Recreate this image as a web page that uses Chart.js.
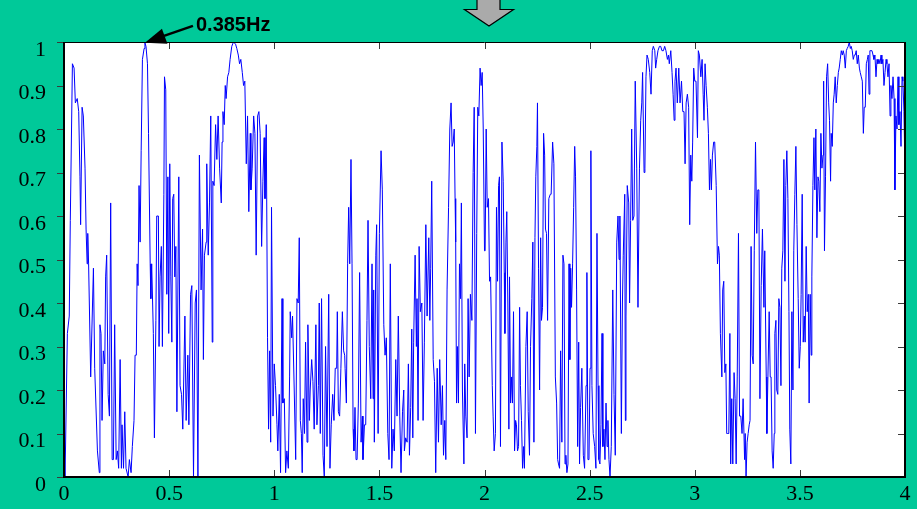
<!DOCTYPE html>
<html>
<head>
<meta charset="utf-8">
<title>Coherence spectrum</title>
<script src="https://cdn.jsdelivr.net/npm/chart.js@4.4.1/dist/chart.umd.min.js"></script>
<style>
  html, body { margin: 0; padding: 0; background: #00C999; }
  #wrap { width: 917px; height: 509px; position: relative; }
  canvas { display: block; }
</style>
</head>
<body>
<div id="wrap"><canvas id="chart" width="917" height="509"></canvas></div>
<script>
// Frequency axis samples (Hz) and the matching coherence values, in bands.
const freqA = [
  0.000,0.005,0.016,0.025,0.030,0.040,0.048,0.054,0.063,0.070,
  0.076,0.079,0.086,0.092,0.100,0.105,0.110,0.113,0.117,0.127,
  0.140,0.146,0.159,0.168,0.171,0.176,0.181,0.187,0.194,0.198,
  0.203,0.210,0.216,0.222,0.229,0.235,0.241,0.248,0.254,0.260,
  0.267,0.273,0.276,0.283,0.289,0.295,0.305,0.311,0.319,0.325,
  0.333,0.338,0.344,0.348,0.352,0.357,0.362,0.367,0.373,0.381,
  0.385,0.390,0.397,0.402,0.410,0.413,0.417,0.425,0.430,0.437,
  0.441,0.449,0.452,0.457,0.463,0.468,0.475,0.478,0.484,0.489,
  0.494,0.498,0.503,0.508,0.513,0.517,0.522,0.527,0.532,0.537,
  0.546,0.552,0.559,0.565,0.575,0.581,0.589,0.594,0.602,0.608,
  0.616,0.624,0.630,0.637,0.644,0.652,0.659,0.663,0.668
];
const cohA = [
  0.08,0.00,0.33,0.37,0.59,0.95,0.94,0.86,0.87,0.84,
  0.69,0.58,0.85,0.83,0.71,0.57,0.49,0.56,0.49,0.23,
  0.48,0.25,0.06,0.01,0.35,0.33,0.13,0.29,0.26,0.46,
  0.51,0.19,0.14,0.63,0.04,0.04,0.35,0.04,0.06,0.02,
  0.27,0.02,0.12,0.02,0.15,0.02,0.00,0.04,0.01,0.07,
  0.13,0.28,0.28,0.49,0.44,0.67,0.54,0.75,0.96,0.985,
  0.998,0.99,0.95,0.79,0.49,0.41,0.49,0.33,0.09,0.36,
  0.60,0.60,0.30,0.46,0.53,0.30,0.65,0.92,0.89,0.42,
  0.69,0.33,0.72,0.46,0.31,0.64,0.65,0.46,0.53,0.15,
  0.69,0.21,0.19,0.11,0.37,0.13,0.28,0.12,0.42,0.44,
  0.00,0.40,0.43,0.00,0.74,0.43,0.57,0.27,0.51
];
const freqB = [
  0.670,0.676,0.679,0.686,0.692,0.698,0.705,0.708,0.714,0.721,
  0.727,0.733,0.740,0.748,0.752,0.756,0.762,0.767,0.771,0.778,
  0.784,0.790,0.798,0.806,0.816,0.822,0.829,0.835,0.841,0.848,
  0.854,0.860,0.867,0.873,0.879,0.886,0.889,0.895,0.902,0.908,
  0.914,0.921,0.927,0.933,0.940,0.946,0.952,0.956,0.962,0.968,
  0.973,0.978,0.983,0.987,0.994,1.000,1.006,1.013,1.017,1.024,
  1.030,1.037,1.041,1.048,1.054,1.060,1.067,1.073,1.076,1.083,
  1.087,1.095,1.102,1.108,1.114,1.119,1.124,1.129,1.133,1.138,
  1.144,1.149,1.156,1.160,1.167,1.171,1.178,1.184,1.190,1.198,
  1.203,1.210,1.214,1.219,1.225,1.232,1.238,1.244,1.251,1.259,
  1.265,1.271,1.278,1.284,1.290,1.297,1.300,1.305,1.311,1.317,
  1.324,1.330,1.335
];
const cohB = [
  0.51,0.54,0.72,0.51,0.63,0.83,0.31,0.68,0.67,0.81,
  0.73,0.83,0.71,0.63,0.77,0.84,0.81,0.90,0.87,0.92,
  0.93,0.96,0.99,1.00,0.995,0.985,0.97,0.95,0.96,0.93,
  0.90,0.91,0.72,0.83,0.61,0.79,0.66,0.71,0.83,0.79,
  0.51,0.83,0.84,0.79,0.53,0.68,0.78,0.64,0.81,0.32,
  0.11,0.29,0.08,0.62,0.14,0.26,0.21,0.12,0.06,0.19,
  0.01,0.41,0.17,0.18,0.01,0.06,0.02,0.23,0.38,0.32,
  0.37,0.20,0.04,0.41,0.40,0.55,0.13,0.10,0.01,0.18,
  0.10,0.31,0.08,0.35,0.13,0.20,0.27,0.22,0.11,0.35,
  0.12,0.21,0.40,0.10,0.41,0.05,0.00,0.30,0.07,0.42,
  0.02,0.12,0.19,0.13,0.25,0.25,0.38,0.15,0.14,0.25,
  0.38,0.29,0.28
];
const freqC = [
  1.337,1.343,1.349,1.354,1.359,1.365,1.370,1.375,1.379,1.384,
  1.389,1.394,1.400,1.406,1.413,1.419,1.422,1.429,1.435,1.441,
  1.446,1.452,1.459,1.465,1.470,1.473,1.476,1.483,1.487,1.494,
  1.500,1.508,1.514,1.521,1.527,1.533,1.540,1.546,1.552,1.559,
  1.565,1.571,1.578,1.584,1.590,1.597,1.603,1.610,1.616,1.619,
  1.625,1.632,1.638,1.643,1.649,1.654,1.659,1.663,1.670,1.676,
  1.679,1.684,1.689,1.695,1.702,1.708,1.714,1.721,1.727,1.735,
  1.740,1.744,1.749,1.756,1.762,1.768,1.775,1.781,1.787,1.794,
  1.800,1.805,1.811,1.816,1.822,1.829,1.835,1.841,1.846,1.851,
  1.856,1.860,1.863,1.867,1.871,1.876,1.881,1.886,1.890,1.895,
  1.902,1.906,1.911,1.917,1.922,1.927,1.933,1.940,1.946,1.951,
  1.957,1.963,1.968,1.973,1.979,1.984,1.989,1.994,2.000
];
const cohC = [
  0.25,0.17,0.49,0.62,0.49,0.73,0.49,0.11,0.06,0.16,
  0.04,0.04,0.17,0.47,0.08,0.14,0.04,0.12,0.12,0.36,
  0.59,0.30,0.18,0.49,0.18,0.43,0.08,0.51,0.58,0.10,
  0.56,0.75,0.66,0.35,0.28,0.32,0.10,0.04,0.49,0.02,
  0.11,0.06,0.27,0.14,0.37,0.14,0.01,0.15,0.20,0.06,
  0.09,0.08,0.26,0.05,0.16,0.34,0.09,0.31,0.51,0.30,
  0.41,0.13,0.53,0.38,0.40,0.13,0.31,0.58,0.37,0.55,
  0.36,0.48,0.68,0.27,0.22,0.01,0.25,0.08,0.27,0.12,
  0.21,0.05,0.13,0.04,0.43,0.62,0.80,0.86,0.76,0.77,
  0.80,0.64,0.54,0.17,0.30,0.17,0.49,0.41,0.63,0.20,
  0.03,0.26,0.14,0.09,0.41,0.23,0.42,0.36,0.70,0.85,
  0.10,0.56,0.85,0.83,0.94,0.90,0.93,0.80,0.52
];
const freqD = [
  2.003,2.008,2.013,2.019,2.024,2.029,2.037,2.041,2.046,2.052,
  2.057,2.062,2.067,2.071,2.076,2.083,2.089,2.094,2.097,2.102,
  2.106,2.111,2.116,2.119,2.124,2.129,2.133,2.138,2.143,2.148,
  2.152,2.157,2.162,2.167,2.171,2.176,2.181,2.186,2.190,2.197,
  2.203,2.208,2.214,2.219,2.225,2.230,2.235,2.240,2.244,2.249,
  2.252,2.257,2.262,2.267,2.271,2.276,2.281,2.286,2.290,2.295,
  2.300,2.306,2.313,2.317,2.324,2.330,2.337,2.343,2.348,2.352,
  2.357,2.362,2.368,2.373,2.378,2.383,2.387,2.392,2.397,2.402,
  2.406,2.410,2.414,2.419,2.424,2.429,2.433,2.438,2.443,2.448,
  2.452,2.457,2.463,2.470,2.476,2.483,2.487,2.492,2.497,2.502,
  2.506,2.511,2.517,2.524,2.530,2.535,2.540,2.544,2.549,2.554,
  2.559,2.563,2.568,2.573,2.578,2.583,2.587,2.592,2.597,2.603,
  2.610,2.616,2.622,2.629,2.635,2.640,2.644,2.651,2.656,2.660,
  2.667,2.670
];
const cohD = [
  0.52,0.80,0.62,0.64,0.45,0.46,0.21,0.14,0.06,0.10,
  0.62,0.45,0.67,0.69,0.07,0.77,0.68,0.47,0.33,0.54,
  0.61,0.40,0.11,0.46,0.17,0.23,0.17,0.38,0.06,0.13,
  0.12,0.06,0.07,0.39,0.21,0.13,0.02,0.07,0.02,0.30,
  0.38,0.15,0.05,0.30,0.41,0.54,0.08,0.55,0.69,0.76,
  0.86,0.48,0.20,0.55,0.36,0.39,0.79,0.74,0.57,0.56,
  0.36,0.64,0.65,0.65,0.77,0.72,0.23,0.17,0.04,0.03,
  0.02,0.29,0.08,0.51,0.49,0.03,0.05,0.01,0.03,0.49,
  0.27,0.48,0.39,0.49,0.62,0.76,0.69,0.43,0.07,0.31,
  0.03,0.16,0.25,0.05,0.02,0.21,0.47,0.04,0.04,0.25,
  0.75,0.21,0.10,0.07,0.02,0.56,0.21,0.04,0.03,0.12,
  0.33,0.07,0.11,0.04,0.17,0.07,0.13,0.04,0.00,0.07,
  0.43,0.19,0.05,0.54,0.60,0.50,0.60,0.10,0.40,0.51,
  0.65,0.13
];
const freqE = [
  2.673,2.679,2.686,2.690,2.695,2.700,2.705,2.711,2.717,2.724,
  2.730,2.737,2.743,2.748,2.752,2.759,2.763,2.768,2.773,2.779,
  2.786,2.792,2.798,2.803,2.810,2.814,2.819,2.825,2.832,2.838,
  2.844,2.851,2.857,2.863,2.870,2.875,2.879,2.886,2.892,2.897,
  2.902,2.906,2.911,2.917,2.924,2.930,2.937,2.943,2.949,2.954,
  2.959,2.965,2.971,2.976,2.981,2.986,2.990,2.995,3.000,3.006,
  3.013,3.017,3.022,3.029,3.035,3.040,3.044,3.049,3.054,3.060,
  3.065,3.070,3.075,3.079,3.084,3.090,3.095,3.102,3.108,3.113,
  3.117,3.122,3.129,3.133,3.138,3.143,3.148,3.152,3.157,3.162,
  3.167,3.171,3.176,3.181,3.187,3.192,3.197,3.202,3.208,3.213,
  3.219,3.225,3.230,3.237,3.240,3.244,3.249,3.254,3.259,3.263,
  3.268,3.273,3.278,3.283,3.289,3.295,3.300,3.305,3.310,3.316,
  3.322,3.329,3.333
];
const cohE = [
  0.37,0.67,0.63,0.40,0.59,0.80,0.59,0.60,0.91,0.71,
  0.39,0.71,0.82,0.86,0.93,0.70,0.71,0.92,0.97,0.96,
  0.93,0.88,0.98,0.99,0.98,0.94,0.96,0.98,0.99,0.99,
  0.98,0.98,0.99,0.98,0.96,0.97,0.95,0.98,0.93,0.88,
  0.82,0.91,0.94,0.86,0.94,0.86,0.91,0.84,0.84,0.72,
  0.86,0.88,0.85,0.58,0.74,0.68,0.77,0.94,0.91,0.91,
  0.78,0.98,0.97,0.92,0.96,0.88,0.82,0.95,0.90,0.85,
  0.79,0.66,0.73,0.66,0.74,0.77,0.77,0.67,0.49,0.53,
  0.51,0.33,0.23,0.43,0.45,0.24,0.26,0.10,0.10,0.10,
  0.33,0.03,0.18,0.03,0.24,0.18,0.03,0.23,0.56,0.14,
  0.14,0.10,0.18,0.04,0.10,0.00,0.08,0.10,0.12,0.13,
  0.53,0.28,0.26,0.52,0.77,0.56,0.66,0.66,0.18,0.44,
  0.57,0.39,0.52
];
const freqF = [
  3.340,3.343,3.348,3.354,3.359,3.363,3.368,3.373,3.378,3.381,
  3.386,3.390,3.395,3.400,3.405,3.410,3.414,3.419,3.424,3.429,
  3.433,3.438,3.443,3.448,3.452,3.457,3.462,3.467,3.471,3.476,
  3.481,3.486,3.492,3.497,3.502,3.506,3.511,3.516,3.521,3.525,
  3.530,3.535,3.540,3.544,3.549,3.554,3.557,3.562,3.567,3.571,
  3.576,3.581,3.586,3.590,3.595,3.600,3.605,3.610,3.613,3.617,
  3.622,3.627,3.632,3.637,3.641,3.646,3.649,3.654,3.659,3.663,
  3.668,3.673,3.678,3.683,3.687,3.692,3.697,3.702,3.706,3.711,
  3.716,3.721,3.725,3.730,3.735,3.740,3.744,3.749,3.754,3.759,
  3.763,3.768,3.773,3.778,3.783,3.787,3.792,3.797,3.802,3.806,
  3.811,3.816,3.821,3.825,3.829,3.833,3.838,3.843,3.848,3.852,
  3.857,3.862,3.867,3.871,3.876,3.881,3.886,3.890,3.895,3.900,
  3.905,3.910,3.914,3.919,3.924,3.929,3.933,3.938,3.943,3.948,
  3.952,3.957,3.962,3.967,3.971,3.976,3.981,3.986,3.990,3.995,
  4.000
];
const cohF = [
  0.23,0.10,0.23,0.38,0.23,0.23,0.06,0.02,0.10,0.33,
  0.36,0.20,0.19,0.41,0.39,0.21,0.48,0.52,0.73,0.45,
  0.67,0.75,0.64,0.38,0.11,0.03,0.38,0.20,0.52,0.65,
  0.76,0.58,0.41,0.25,0.30,0.42,0.65,0.31,0.37,0.31,
  0.53,0.38,0.42,0.17,0.42,0.28,0.46,0.67,0.78,0.66,
  0.80,0.55,0.69,0.68,0.61,0.79,0.71,0.74,0.91,0.52,
  0.69,0.92,0.95,0.86,0.82,0.68,0.79,0.76,0.86,0.88,
  0.92,0.86,0.90,0.93,0.94,0.96,0.98,0.97,0.98,0.97,
  0.94,0.98,0.985,0.99,1.00,0.985,0.99,0.98,0.96,0.97,
  0.97,0.98,0.95,0.97,0.94,0.93,0.92,0.91,0.79,0.85,
  0.85,0.95,0.96,0.97,0.88,0.98,0.98,0.98,0.97,0.96,
  0.97,0.92,0.96,0.95,0.96,0.95,0.97,0.95,0.96,0.90,
  0.93,0.96,0.95,0.92,0.95,0.83,0.90,0.87,0.92,0.87,
  0.66,0.83,0.80,0.92,0.81,0.84,0.76,0.92,0.91,0.84,
  0.70
];

// Axis ticks and their labels
const xTicks = [0, 0.5, 1, 1.5, 2, 2.5, 3, 3.5, 4];
const xTickLabels = ['0', '0.5', '1', '1.5', '2', '2.5', '3', '3.5', '4'];
const yTicks = [0, 0.1, 0.2, 0.3, 0.4, 0.5, 0.6, 0.7, 0.8, 0.9, 1];
const yTickLabels = ['0', '0.1', '0.2', '0.3', '0.4', '0.5', '0.6', '0.7', '0.8', '0.9', '1'];

// Annotated peak
const peakHz = 0.385;
const peakLabel = '0.385Hz';

const freqHz = [].concat(freqA, freqB, freqC, freqD, freqE, freqF);
const coherence = [].concat(cohA, cohB, cohC, cohD, cohE, cohF);
const points = freqHz.map((f, i) => ({ x: f, y: coherence[i] }));
const peakValue = coherence[freqHz.indexOf(peakHz)];

// White plot area, MATLAB-style frame and tick marks, the peak callout
// and the grey pointer above the axes.
const framePlugin = {
  id: 'frame',
  beforeDraw(chart) {
    const { ctx, chartArea: a } = chart;
    ctx.save();
    ctx.fillStyle = '#ffffff';
    ctx.fillRect(a.left, a.top, a.right - a.left, a.bottom - a.top);
    ctx.restore();
  },
  afterDraw(chart) {
    const { ctx, chartArea: a, scales } = chart;
    const xs = scales.x, ys = scales.y;
    ctx.save();

    // tick marks
    ctx.strokeStyle = '#3a3a3a';
    ctx.lineWidth = 1;
    ctx.beginPath();
    yTicks.forEach(v => {
      const py = Math.round(ys.getPixelForValue(v)) + 0.5;
      ctx.moveTo(a.left - 7, py); ctx.lineTo(a.left, py);
      ctx.moveTo(a.right - 7, py); ctx.lineTo(a.right, py);
    });
    xTicks.forEach(v => {
      const px = Math.round(xs.getPixelForValue(v)) + 0.5;
      ctx.moveTo(px, a.bottom); ctx.lineTo(px, a.bottom - 7);
      ctx.moveTo(px, a.top); ctx.lineTo(px, a.top + 7);
    });
    ctx.stroke();

    // frame
    ctx.strokeStyle = '#000000';
    ctx.lineWidth = 1;
    ctx.beginPath();
    ctx.moveTo(a.left, a.top + 0.5); ctx.lineTo(a.right, a.top + 0.5);
    ctx.stroke();
    ctx.lineWidth = 2;
    ctx.beginPath();
    ctx.moveTo(a.left, a.top); ctx.lineTo(a.left, a.bottom);
    ctx.lineTo(a.right, a.bottom); ctx.lineTo(a.right, a.top);
    ctx.stroke();

    // callout arrow pointing at the peak
    const tx = xs.getPixelForValue(peakHz);
    const ty = ys.getPixelForValue(peakValue);
    ctx.fillStyle = '#000000';
    ctx.beginPath();
    ctx.moveTo(tx, ty);
    ctx.lineTo(tx + 17, ty - 14);
    ctx.lineTo(tx + 22.5, ty + 1);
    ctx.closePath();
    ctx.fill();
    ctx.lineWidth = 2.5;
    ctx.beginPath();
    ctx.moveTo(tx + 19, ty - 7);
    ctx.lineTo(tx + 48, ty - 17);
    ctx.stroke();
    ctx.font = 'bold 20px "Liberation Sans", Arial, sans-serif';
    ctx.textAlign = 'left';
    ctx.textBaseline = 'alphabetic';
    ctx.fillText(peakLabel, tx + 51, ty - 12);

    // grey down-pointing arrow at the top edge
    const cx = 489;
    ctx.fillStyle = '#aaaaaa';
    ctx.strokeStyle = '#000000';
    ctx.lineWidth = 1.2;
    ctx.beginPath();
    ctx.moveTo(cx - 12, -2);
    ctx.lineTo(cx - 12, 9.5);
    ctx.lineTo(cx - 24.5, 9.5);
    ctx.lineTo(cx, 26);
    ctx.lineTo(cx + 24.5, 9.5);
    ctx.lineTo(cx + 11, 9.5);
    ctx.lineTo(cx + 11, -2);
    ctx.closePath();
    ctx.fill();
    ctx.stroke();

    ctx.restore();
  }
};

const tickFont = { family: '"Liberation Serif", "Times New Roman", serif', size: 22 };

new Chart(document.getElementById('chart'), {
  type: 'line',
  data: {
    datasets: [{
      data: points,
      borderColor: '#0000ff',
      borderWidth: 1,
      pointRadius: 0,
      tension: 0,
      fill: false
    }]
  },
  options: {
    responsive: false,
    animation: false,
    devicePixelRatio: 1,
    layout: { padding: { top: 42, right: 12, left: 0, bottom: 0 } },
    plugins: { legend: { display: false }, tooltip: { enabled: false } },
    scales: {
      x: {
        type: 'linear',
        min: 0, max: 4,
        grid: { display: false, drawTicks: false, tickLength: 0 },
        border: { display: false },
        afterBuildTicks: s => { s.ticks = xTicks.map(v => ({ value: v })); },
        afterFit: s => { s.height = 32; },
        ticks: {
          autoSkip: false, maxRotation: 0, minRotation: 0,
          padding: 4, color: '#000000', font: tickFont,
          callback: (v, i) => xTickLabels[i]
        }
      },
      y: {
        type: 'linear',
        min: 0, max: 1,
        grid: { display: false, drawTicks: false, tickLength: 0 },
        border: { display: false },
        afterBuildTicks: s => { s.ticks = yTicks.map(v => ({ value: v })); },
        afterFit: s => { s.width = 64; },
        ticks: {
          autoSkip: false, padding: 18, labelOffset: 8,
          color: '#000000', font: tickFont,
          callback: (v, i) => yTickLabels[i]
        }
      }
    }
  },
  plugins: [framePlugin]
});
</script>
</body>
</html>
